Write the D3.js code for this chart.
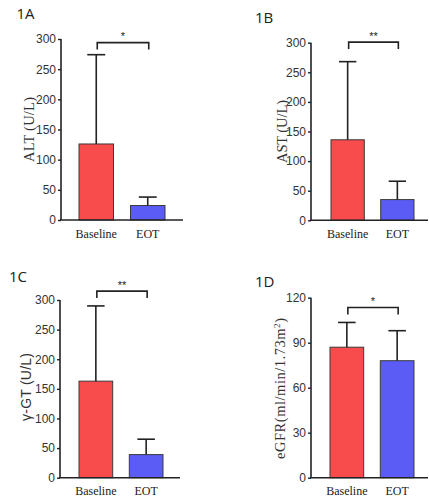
<!DOCTYPE html>
<html>
<head>
<meta charset="utf-8">
<script src="https://cdn.jsdelivr.net/npm/d3@7"></script>
<style>
  html, body { margin: 0; padding: 0; background: #fff; }
  svg { display: block; }
</style>
</head>
<body>
<svg id="chart" width="429" height="500"></svg>
<script>
// ---------- data ----------
const categories = ["Baseline", "EOT"];
const panelLabels = ["1A", "1B", "1C", "1D"];
const yTitles = ["ALT (U/L)", "AST (U/L)", "γ-GT (U/L)", "eGFR(ml/min/1.73m2)"];
const altMean = [126, 24];
const altSD = [148, 14];
const astMean = [136, 35];
const astSD = [132, 31];
const ggtMean = [163, 39];
const ggtSD = [127, 26];
const egfrMean = [87, 78];
const egfrSD = [16.5, 20];
const significance = ["*", "**", "**", "*"];
const ticksLiver = [0, 50, 100, 150, 200, 250, 300];
const ticksEgfr = [0, 30, 60, 90, 120];
const yMaxLiver = 300;
const yMaxEgfr = 120;
const bracketLevels = [294, 301, 315, 113.5];

// ---------- layout ----------
const colors = ["#f84b4b", "#5b5cf6"];
const panels = [
  { mean: altMean, sd: altSD, ticks: ticksLiver, yMax: yMaxLiver,
    axisX: 61, yTop: 39, y0: 220, xEnd: 183, bars: [79, 165],
    label: [16.5, 19], title: [34, 129.5, 65], titleFont: "serif", xLab: 238 },
  { mean: astMean, sd: astSD, ticks: ticksLiver, yMax: yMaxLiver,
    axisX: 311, yTop: 42.7, y0: 220.3, xEnd: 428, bars: [331, 414],
    label: [255, 23], title: [286.5, 131.5, 63], titleFont: "serif", xLab: 238 },
  { mean: ggtMean, sd: ggtSD, ticks: ticksLiver, yMax: yMaxLiver,
    axisX: 60, yTop: 300, y0: 477.7, xEnd: 180, bars: [79, 163],
    label: [9, 282], title: [31, 387, 68], titleFont: "sans", xLab: 495 },
  { mean: egfrMean, sd: egfrSD, ticks: ticksEgfr, yMax: yMaxEgfr,
    axisX: 311, yTop: 297.7, y0: 477.7, xEnd: 428, bars: [330, 414],
    label: [255, 287], title: [284.5, 388.5, 141], titleFont: "serif", xLab: 495 }
];

const svg = d3.select("#chart");
const serif = "'Liberation Serif', 'Times New Roman', serif";
const sans = "'Liberation Sans', Arial, sans-serif";

panels.forEach((p, i) => {
  const g = svg.append("g");
  const y = d3.scaleLinear().domain([0, p.yMax]).range([p.y0, p.yTop]);
  const x = d3.scaleBand().domain(categories).range(p.bars).paddingInner(0.33).paddingOuter(0);

  // panel label
  g.append("text")
    .attr("x", p.label[0]).attr("y", p.label[1])
    .attr("font-family", "'Open Sans', 'Noto Sans', sans-serif")
    .attr("font-size", 15).attr("fill", "#222")
    .text(panelLabels[i]);

  // bars
  categories.forEach((c, j) => {
    g.append("rect")
      .attr("x", x(c)).attr("width", x.bandwidth())
      .attr("y", y(p.mean[j])).attr("height", y(0) - y(p.mean[j]))
      .attr("fill", colors[j]).attr("stroke", "#3a3a3a").attr("stroke-width", 1);
    const cx = x(c) + x.bandwidth() / 2;
    const top = y(p.mean[j] + p.sd[j]);
    g.append("line")
      .attr("x1", cx).attr("x2", cx).attr("y1", y(p.mean[j])).attr("y2", top)
      .attr("stroke", "#222").attr("stroke-width", 1.6);
    g.append("line")
      .attr("x1", cx - x.bandwidth() * 0.26).attr("x2", cx + x.bandwidth() * 0.26)
      .attr("y1", top).attr("y2", top)
      .attr("stroke", "#222").attr("stroke-width", 1.6);
  });

  // y axis
  const ax = g.append("g")
    .attr("transform", `translate(${p.axisX},0)`)
    .call(d3.axisLeft(y).tickValues(p.ticks).tickSize(3).tickPadding(2).tickFormat(d3.format("d")));
  ax.select(".domain").attr("stroke", "#222").attr("stroke-width", 1.6)
    .attr("d", `M0,${p.yTop}V${p.y0}`);
  ax.selectAll(".tick line").attr("stroke", "#222").attr("stroke-width", 1.4);
  ax.selectAll(".tick text").attr("font-family", sans).attr("font-size", 12).attr("fill", "#333");

  // x axis line
  g.append("line")
    .attr("x1", p.axisX - 1).attr("x2", p.xEnd).attr("y1", p.y0).attr("y2", p.y0)
    .attr("stroke", "#222").attr("stroke-width", 1.6);

  // x labels
  categories.forEach(c => {
    g.append("text")
      .attr("x", x(c) + x.bandwidth() / 2).attr("y", p.xLab)
      .attr("text-anchor", "middle")
      .attr("font-family", serif).attr("font-size", 12).attr("fill", "#222")
      .text(c);
  });

  // y title
  const t = g.append("text")
    .attr("transform", `translate(${p.title[0]},${p.title[1]}) rotate(-90)`)
    .attr("text-anchor", "middle")
    .attr("font-family", p.titleFont === "serif" ? serif : sans)
    .attr("font-size", p.titleFont === "serif" ? 14.5 : 14)
    .attr("fill", "#333")
    .attr("textLength", p.title[2]).attr("lengthAdjust", "spacing");
  const title = yTitles[i];
  if (title.endsWith("m2)")) {
    t.append("tspan").text(title.slice(0, -2));
    t.append("tspan").attr("dy", -5).attr("font-size", 9).text("2");
    t.append("tspan").attr("dy", 5).text(")");
  } else {
    t.text(title);
  }

  // significance bracket
  const bx1 = x(categories[0]) + x.bandwidth() / 2 + 1;
  const bx2 = x(categories[1]) + x.bandwidth() / 2 + 1;
  const by = y(bracketLevels[i]);
  g.append("path")
    .attr("d", `M${bx1},${by + 7}V${by}H${bx2}V${by + 7}`)
    .attr("fill", "none").attr("stroke", "#222").attr("stroke-width", 1.6);
  g.append("text")
    .attr("x", (bx1 + bx2) / 2).attr("y", by - 2.5)
    .attr("text-anchor", "middle")
    .attr("font-family", sans).attr("font-size", 11).attr("fill", "#222")
    .text(significance[i]);
});
</script>
</body>
</html>
